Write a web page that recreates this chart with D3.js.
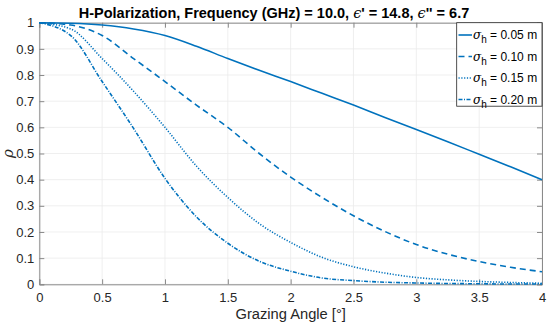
<!DOCTYPE html>
<html>
<head>
<meta charset="utf-8">
<script src="https://cdn.jsdelivr.net/npm/d3@7"></script>
<style>
body { margin:0; background:#fff; }
text { font-family: "Liberation Sans", Arial, sans-serif; }
</style>
</head>
<body>
<div id="grafico"></div>
<script>
// angulos de incidencia (graus)
var angulos = [0, 0.25, 0.5, 0.75, 1, 1.25, 1.5, 1.75, 2, 2.25, 2.5, 2.75, 3, 3.25, 3.5, 3.75, 4];

// coeficiente de rugosidade
var rho005 = [1, 0.998, 0.991, 0.976, 0.951, 0.910, 0.863, 0.818, 0.775, 0.730, 0.685, 0.638, 0.592, 0.545, 0.497, 0.449, 0.400];
var rho010 = [1, 0.991, 0.951, 0.863, 0.775, 0.685, 0.600, 0.500, 0.410, 0.332, 0.262, 0.202, 0.152, 0.115, 0.087, 0.065, 0.048];
var rho015 = [1, 0.976, 0.863, 0.738, 0.600, 0.452, 0.332, 0.232, 0.160, 0.103, 0.067, 0.043, 0.026, 0.017, 0.011, 0.007, 0.004];
var rho020 = [1, 0.951, 0.775, 0.596, 0.405, 0.258, 0.157, 0.088, 0.050, 0.024, 0.014, 0.008, 0.005, 0.003, 0.002, 0.001, 0.001];

var legendas = ["0.05 m", "0.10 m", "0.15 m", "0.20 m"];
var tracos = ["none", "6,4", "1.2,1.6", "4,1.5,1,1.5"];

var xTicks = [0, 0.5, 1, 1.5, 2, 2.5, 3, 3.5, 4];
var yTicks = [0, 0.1, 0.2, 0.3, 0.4, 0.5, 0.6, 0.7, 0.8, 0.9, 1];

var width = 550;
var height = 332;
var azul = "#0072bd";

var svg = d3.select("#grafico").append("svg")
	.attr("width", width)
	.attr("height", height);

var x = d3.scaleLinear().domain([0, 4]).range([39.3, 542]);
var y = d3.scaleLinear().domain([0, 1]).range([284.3, 22.7]);

// grade
svg.selectAll(".gx").data(xTicks).enter().append("line")
	.attr("x1", function(d){ return x(d); })
	.attr("x2", function(d){ return x(d); })
	.attr("y1", y(0)).attr("y2", y(1))
	.style("stroke", "#ebebeb").style("stroke-width", 0.8);

svg.selectAll(".gy").data(yTicks).enter().append("line")
	.attr("x1", x(0)).attr("x2", x(4))
	.attr("y1", function(d){ return y(d); })
	.attr("y2", function(d){ return y(d); })
	.style("stroke", "#ebebeb").style("stroke-width", 0.8);

// eixos
var eixoX = svg.append("g").attr("transform", "translate(0," + y(0) + ")")
	.call(d3.axisBottom(x).tickValues(xTicks).tickSize(-5).tickPadding(8).tickFormat(d3.format("")));
var eixoY = svg.append("g").attr("transform", "translate(" + x(0) + ",0)")
	.call(d3.axisLeft(y).tickValues(yTicks).tickSize(-5).tickPadding(5).tickFormat(d3.format("")));
var eixoTopo = svg.append("g").attr("transform", "translate(0," + y(1) + ")")
	.call(d3.axisTop(x).tickValues(xTicks).tickSize(-5).tickFormat(""));
var eixoDir = svg.append("g").attr("transform", "translate(" + x(4) + ",0)")
	.call(d3.axisRight(y).tickValues(yTicks).tickSize(-5).tickFormat(""));

[eixoX, eixoY, eixoTopo, eixoDir].forEach(function(g){
	g.select(".domain").style("stroke", "#8a8a8a");
	g.selectAll(".tick line").style("stroke", "#8a8a8a");
	g.selectAll("text").style("font-size", "13px").style("fill", "#262626")
		.style("font-family", "'Liberation Sans', Arial, sans-serif");
});

// curvas
var series = [rho005, rho010, rho015, rho020];
var linha = d3.line()
	.x(function(d, i){ return x(angulos[i]); })
	.y(function(d){ return y(d); })
	.curve(d3.curveMonotoneX);

svg.selectAll(".curva").data(series).enter().append("path")
	.attr("d", function(d){ return linha(d); })
	.style("fill", "none")
	.style("stroke", azul)
	.style("stroke-width", 1.6)
	.style("stroke-dasharray", function(d, i){ return tracos[i]; });

// titulo
var titulo = svg.append("text")
	.attr("x", 274).attr("y", 18)
	.attr("text-anchor", "middle")
	.style("font-size", "14.5px").style("font-weight", "bold").style("fill", "#000");
titulo.append("tspan").text("H-Polarization, Frequency (GHz) = 10.0, ");
titulo.append("tspan").text("\u03f5").style("font-family", "'DejaVu Serif', serif").style("font-style", "italic").style("font-weight", "normal");
titulo.append("tspan").text("' = 14.8, ");
titulo.append("tspan").text("\u03f5").style("font-family", "'DejaVu Serif', serif").style("font-style", "italic").style("font-weight", "normal");
titulo.append("tspan").text("'' = 6.7");

svg.append("text")
	.attr("x", 290.7).attr("y", 319)
	.attr("text-anchor", "middle")
	.style("font-size", "14.7px").style("fill", "#262626")
	.text("Grazing Angle [\u00b0]");

svg.append("text")
	.attr("transform", "translate(13,153.5) rotate(-90)")
	.attr("text-anchor", "middle")
	.style("font-size", "15px").style("font-style", "italic").style("fill", "#262626")
	.style("font-family", "'DejaVu Serif', serif")
	.text("\u03c1");

// legenda
svg.append("rect")
	.attr("x", 456.7).attr("y", 22.7)
	.attr("width", 85.3).attr("height", 83.5)
	.style("fill", "#fff").style("stroke", "#262626").style("stroke-width", 0.8);

var linhasLeg = [35, 56.5, 78, 99.5];
var itens = svg.selectAll(".leg").data(legendas).enter().append("g")
	.attr("transform", function(d, i){ return "translate(0," + linhasLeg[i] + ")"; });

itens.append("line")
	.attr("x1", 458.5).attr("x2", 472)
	.style("stroke", azul).style("stroke-width", 1.6)
	.style("stroke-dasharray", function(d, i){ return tracos[i]; });

var txt = itens.append("text")
	.attr("x", 473).attr("y", 4)
	.style("font-size", "12px").style("fill", "#000");
txt.append("tspan").text("\u03c3").style("font-family", "'DejaVu Serif', serif").style("font-style", "italic");
txt.append("tspan").attr("dy", 4).style("font-size", "10px").text("h");
txt.append("tspan").attr("dy", -4).text(function(d){ return " = " + d; });
</script>
</body>
</html>
